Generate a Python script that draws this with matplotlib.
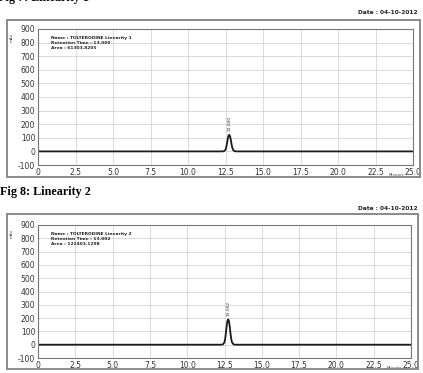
import matplotlib
matplotlib.use("Agg")
import matplotlib.pyplot as plt
from matplotlib.patches import Rectangle

plt.rcParams["axes.unicode_minus"] = False

# ---- data ----
time_min = [0.0, 12.3, 12.4, 12.5, 12.55, 12.6, 12.65, 12.7, 12.75, 12.8, 12.85, 12.9, 12.95, 13.0, 13.1, 13.2, 25.0]
signal_lin1 = [0, 0, 2, 12, 30, 60, 92, 115, 122, 112, 88, 55, 28, 12, 2, 0, 0]
signal_lin2 = [0, 0, 3, 19, 47, 95, 145, 180, 190, 176, 138, 87, 44, 19, 3, 0, 0]
peak_rt = [12.78, 12.78]
peak_labels = ["13.000", "13.002"]
peak_heights = [122, 190]
titles = ["Fig 7: Linearity 1", "Fig 8: Linearity 2"]
info_lines = [
    ["Name : TOLTERODINE Linearity 1", "Retention Time : 13.000", "Area : 61303.8205"],
    ["Name : TOLTERODINE Linearity 2", "Retention Time : 13.002", "Area : 122403.1298"],
]
date_text = "Date : 04-10-2012"
x_ticks = [0, 2.5, 5.0, 7.5, 10.0, 12.5, 15.0, 17.5, 20.0, 22.5, 25.0]
x_tick_labels = ["0", "2.5", "5.0", "7.5", "10.0", "12.5", "15.0", "17.5", "20.0", "22.5", "25.0"]
y_ticks = [-100, 0, 100, 200, 300, 400, 500, 600, 700, 800, 900]

W, H = 423, 373
fig = plt.figure(figsize=(W / 100, H / 100), dpi=100)
fig.patch.set_facecolor("white")

def fx(px):
    return px / W

def fy(py):
    return 1 - py / H

# layout in pixels: (plot_left, plot_right, plot_top, plot_bottom, box_l, box_r, box_t, box_b, date_y)
layouts = [
    (38, 413, 29, 165, 7, 420, 20, 177, 13),
    (38, 411, 225, 358, 7, 418, 214, 369, 208),
]
signals = [signal_lin1, signal_lin2]

for i, (pl, pr, pt, pb, bl, br, bt, bb, dy) in enumerate(layouts):
    # outer frame
    fig.patches.append(Rectangle((fx(bl), fy(bb)), fx(br) - fx(bl), fy(bt) - fy(bb),
                                 transform=fig.transFigure, fill=False,
                                 edgecolor="#8a8a8a", linewidth=1.4))
    ax = fig.add_axes([fx(pl), fy(pb), fx(pr) - fx(pl), fy(pt) - fy(pb)])
    ax.set_xlim(0, 25)
    ax.set_ylim(-100, 900)
    ax.set_xticks(x_ticks)
    ax.set_xticklabels(x_tick_labels)
    ax.set_yticks(y_ticks)
    ax.tick_params(axis="both", length=0, labelsize=5.5, labelcolor="#333333", pad=2)
    ax.grid(True, color="#d4d4d4", linewidth=0.6)
    ax.set_axisbelow(True)
    for s in ax.spines.values():
        s.set_color("#777777")
        s.set_linewidth(0.8)
    ax.plot(time_min, signals[i], color="#1a1a1a", linewidth=1.3)
    ax.text(peak_rt[i], peak_heights[i] + 25, peak_labels[i], rotation=90,
            ha="center", va="bottom", fontsize=3.2, color="#333333")
    for k, line in enumerate(info_lines[i]):
        ax.text(0.035, 0.95 - k * 0.038, line, transform=ax.transAxes,
                fontsize=3.2, fontweight="bold", color="#222222",
                ha="left", va="top", family="Liberation Sans Narrow")
    ax.text(0.955, -0.075, "Minutes", transform=ax.transAxes, fontsize=2.8,
            color="#444444", ha="center", va="center")
    fig.text(fx(12), fy(pt + 8), "mAu", rotation=90, fontsize=2.8,
             color="#444444", ha="center", va="center")
    fig.text(fx(418), fy(dy), date_text, fontsize=4.2, fontweight="bold",
             color="#222222", ha="right", va="center", family="Liberation Sans Narrow")

# captions (the first one is cut by the top edge, as in the scanned page)
fig.text(fx(-2), fy(1.5), titles[0], fontsize=8.7, fontweight="bold",
         family="Liberation Serif", ha="left", va="baseline", color="black")
fig.text(fx(0.5), fy(192), titles[1], fontsize=8.7, fontweight="bold",
         family="Liberation Serif", ha="left", va="center", color="black")

fig.savefig("out.png", dpi=100, facecolor="white")
